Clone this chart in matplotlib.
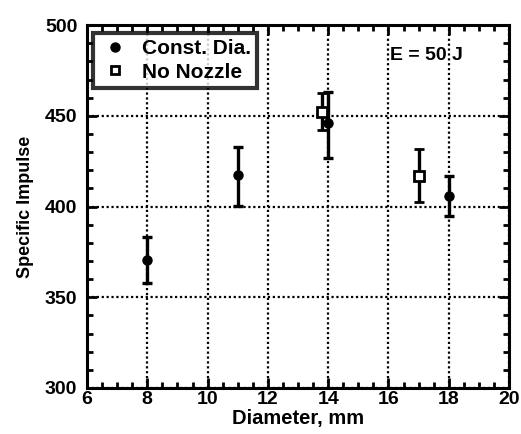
import matplotlib
matplotlib.use("Agg")
import matplotlib.pyplot as plt
from matplotlib.lines import Line2D
from matplotlib.ticker import MultipleLocator

plt.rcParams['font.family'] = ['Liberation Sans', 'DejaVu Sans']
plt.rcParams['font.weight'] = 'bold'

# Constant diameter nozzles
const_x = [8, 11, 14, 18]
const_y = [370.5, 417.5, 446, 406]
const_lo = [358, 400.5, 427, 395]
const_hi = [383, 433, 463, 417]

# No nozzle
noz_x = [13.8, 17]
noz_y = [452, 417]
noz_lo = [442, 402.5]
noz_hi = [462.5, 432]

fig = plt.figure(figsize=(5.21, 4.34), dpi=100)
ax = fig.add_axes([0.167, 0.106, 0.81, 0.836])

def yerr(y, lo, hi):
    return [[v - l for v, l in zip(y, lo)], [h - v for v, h in zip(y, hi)]]

ax.errorbar(const_x, const_y, yerr=yerr(const_y, const_lo, const_hi), fmt='o',
            color='black', ms=6.5, elinewidth=2.4, capsize=3.5, capthick=2.4,
            zorder=3)
ax.errorbar(noz_x, noz_y, yerr=yerr(noz_y, noz_lo, noz_hi), fmt='s',
            color='black', mfc='white', mec='black', mew=2.0, ms=7.5,
            elinewidth=2.4, capsize=3.5, capthick=2.4, zorder=4)

ax.set_xlim(6, 20)
ax.set_ylim(300, 500)
ax.xaxis.set_major_locator(MultipleLocator(2))
ax.xaxis.set_minor_locator(MultipleLocator(0.5))
ax.yaxis.set_major_locator(MultipleLocator(50))
ax.yaxis.set_minor_locator(MultipleLocator(10))
ax.grid(True, which='major', linestyle=(0, (1, 1.2)), color='black', linewidth=1.6)
ax.tick_params(which='both', direction='in', top=True, right=True, width=2)
ax.tick_params(which='major', length=7, labelsize=14)
ax.tick_params(axis='x', which='major', pad=2)
ax.tick_params(axis='y', which='major', pad=7)
ax.tick_params(which='minor', length=4.5)
for s in ax.spines.values():
    s.set_linewidth(2.2)
for lab in ax.get_xticklabels() + ax.get_yticklabels():
    lab.set_fontweight('bold')

ax.set_xlabel('Diameter, mm', fontsize=14.5, fontweight='bold', labelpad=1)
ax.set_ylabel('Specific Impulse', fontsize=13, fontweight='bold', labelpad=8)

ax.text(0.89, 0.917, 'E = 50 J', transform=ax.transAxes, ha='right', va='center',
        fontsize=14, fontweight='bold')

handles = [
    Line2D([], [], ls='none', marker='o', color='black', ms=6.5),
    Line2D([], [], ls='none', marker='s', mfc='white', mec='black', mew=2.0, ms=6),
]
leg = ax.legend(handles, ['Const. Dia.', 'No Nozzle'], loc='upper left',
                bbox_to_anchor=(0.014, 0.978), frameon=True, fancybox=False,
                handletextpad=0.55, borderpad=0.3, labelspacing=0.2,
                handlelength=1.5, borderaxespad=0,
                prop={'weight': 'bold', 'size': 15})
leg.get_frame().set_edgecolor('black')
leg.get_frame().set_linewidth(3)
leg.set_zorder(5)

fig.savefig('out.png', dpi=100)
